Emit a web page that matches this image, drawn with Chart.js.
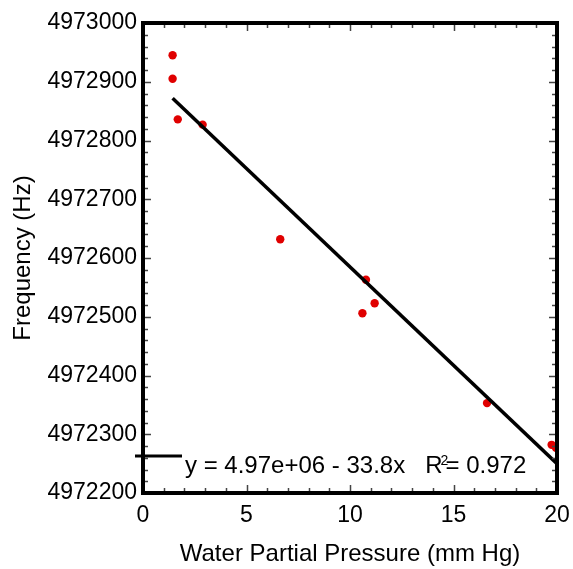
<!DOCTYPE html>
<html>
<head>
<meta charset="utf-8">
<script src="https://cdn.jsdelivr.net/npm/chart.js@4/dist/chart.umd.min.js"></script>
<style>
  html, body { margin: 0; padding: 0; background: #fff; }
  canvas { display: block; }
</style>
</head>
<body>
<canvas id="freqChart" width="573" height="569"></canvas>
<script>
// measured points
const waterPressure = [1.43, 1.43, 1.68, 2.88, 6.63, 10.60, 10.77, 11.19, 16.62, 19.74, 19.95];
const frequency = [4972945, 4972905, 4972836, 4972827, 4972632, 4972506, 4972563, 4972523, 4972353, 4972282, 4972277];

// regression line ends
const fitX = [1.43, 20];
const fitY = [4972872, 4972250];

const xTicks = [0, 5, 10, 15, 20];
const yTicks = [4972200, 4972300, 4972400, 4972500, 4972600, 4972700, 4972800, 4972900, 4973000];

const fitLabel = 'y = 4.97e+06 - 33.8x   R';
const fitR2 = '= 0.972';

const FONT = 'Liberation Sans, Arial, Helvetica, sans-serif';

// inward tick marks on all four sides plus the heavy frame
const frame = {
    id: 'frame',
    afterDatasetsDraw(chart) {
        const { ctx, chartArea: a, scales: { x, y } } = chart;
        ctx.save();
        ctx.strokeStyle = '#444';
        ctx.lineWidth = 1.5;
        ctx.beginPath();
        for (let i = 0; i <= 20; i++) {
            const px = Math.round(x.getPixelForValue(i)) + 0.5;
            const len = i % 5 === 0 ? 8 : 5;
            ctx.moveTo(px, a.bottom); ctx.lineTo(px, a.bottom - len);
            ctx.moveTo(px, a.top); ctx.lineTo(px, a.top + len);
        }
        for (let i = 0; i <= 40; i++) {
            const py = Math.round(y.getPixelForValue(4972200 + i * 20)) + 0.5;
            const len = i % 5 === 0 ? 8 : 5;
            ctx.moveTo(a.left, py); ctx.lineTo(a.left + len, py);
            ctx.moveTo(a.right, py); ctx.lineTo(a.right - len, py);
        }
        ctx.stroke();
        ctx.strokeStyle = '#000';
        ctx.lineWidth = 4;
        ctx.strokeRect(a.left, a.top, a.right - a.left, a.bottom - a.top);
        ctx.restore();
    },
    afterDraw(chart) {
        const ctx = chart.ctx;
        ctx.save();
        // legend line sample
        ctx.strokeStyle = '#000';
        ctx.lineWidth = 3;
        ctx.beginPath();
        ctx.moveTo(135, 456);
        ctx.lineTo(182, 456);
        ctx.stroke();
        ctx.fillStyle = '#000';
        ctx.textBaseline = 'alphabetic';
        ctx.font = '24px ' + FONT;
        ctx.fillText(fitLabel, 185, 473);
        const w = ctx.measureText(fitLabel).width;
        ctx.fillText(fitR2, 185 + w + 3, 473);
        ctx.font = '14px ' + FONT;
        ctx.fillText('2', 185 + w - 2, 465);
        ctx.restore();
    }
};

new Chart(document.getElementById('freqChart'), {
    type: 'scatter',
    data: {
        datasets: [{
            data: waterPressure.map((v, i) => ({ x: v, y: frequency[i] })),
            backgroundColor: '#e00000',
            borderWidth: 0,
            pointRadius: 4.2,
            order: 2
        }, {
            type: 'line',
            data: fitX.map((v, i) => ({ x: v, y: fitY[i] })),
            borderColor: '#000',
            borderWidth: 3.5,
            pointRadius: 0,
            fill: false,
            order: 1
        }]
    },
    options: {
        responsive: false,
        animation: false,
        layout: { padding: { left: 0, right: 16, top: 23, bottom: 0 } },
        plugins: {
            legend: { display: false },
            tooltip: { enabled: false }
        },
        scales: {
            x: {
                type: 'linear',
                min: 0,
                max: 20,
                afterFit: s => { s.height = 76; s.paddingLeft = 0; s.paddingRight = 13; },
                afterBuildTicks: s => { s.ticks = xTicks.map(v => ({ value: v })); },
                grid: { display: false, drawTicks: false },
                border: { display: false },
                ticks: {
                    padding: 9,
                    color: '#000',
                    font: { family: FONT, size: 23 }
                },
                title: {
                    display: true,
                    text: 'Water Partial Pressure (mm Hg)',
                    color: '#000',
                    font: { family: FONT, size: 24 },
                    padding: { top: 0, bottom: 0 }
                }
            },
            y: {
                type: 'linear',
                min: 4972200,
                max: 4973000,
                afterFit: s => { s.width = 143; },
                afterBuildTicks: s => { s.ticks = yTicks.map(v => ({ value: v })); },
                grid: { display: false, drawTicks: false },
                border: { display: false },
                ticks: {
                    padding: 6,
                    color: '#000',
                    font: { family: FONT, size: 23 },
                    callback: v => String(v)
                },
                title: {
                    display: true,
                    text: 'Frequency (Hz)',
                    color: '#000',
                    font: { family: FONT, size: 24 },
                    padding: { top: 9, bottom: 0 }
                }
            }
        }
    },
    plugins: [frame]
});
</script>
</body>
</html>
